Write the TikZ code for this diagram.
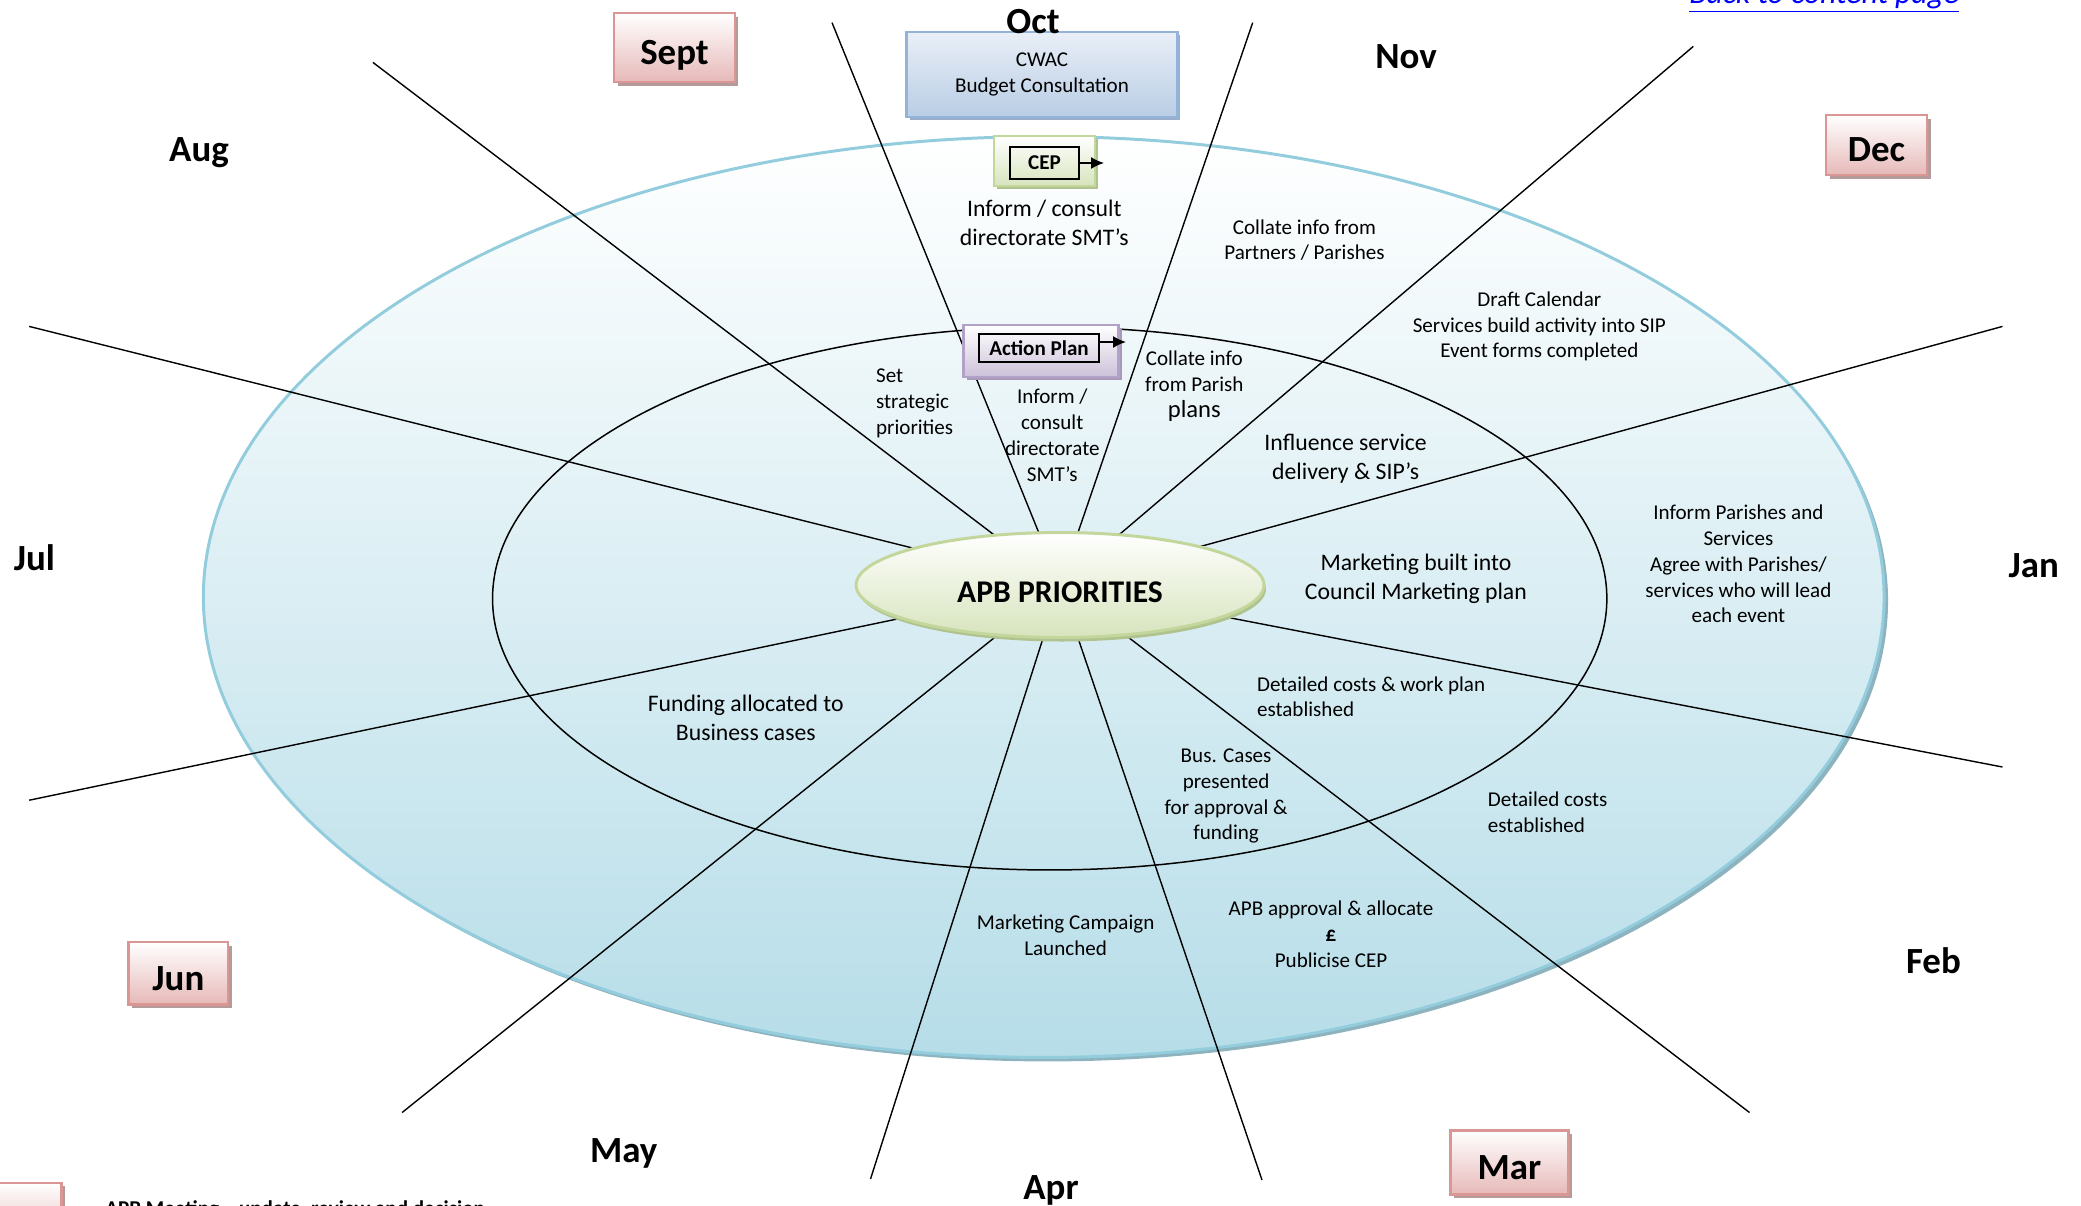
\documentclass[tikz,border=0pt]{standalone}
\usepackage{fontspec}
\setmainfont{Carlito}
\usepackage{tikz}
\usetikzlibrary{arrows.meta,shapes.geometric,shadows}
\definecolor{ringline}{HTML}{93CDDD}
\definecolor{ringfill}{HTML}{B6DDE8}
\definecolor{ringshade}{HTML}{8DB3BE}
\definecolor{prioline}{HTML}{C3D69B}
\definecolor{priofill}{HTML}{D7E4BD}
\definecolor{prioshade}{HTML}{B0C28E}
\definecolor{pinkline}{HTML}{D99694}
\definecolor{pinkfill}{HTML}{E6B9B8}
\definecolor{pinkshade}{HTML}{B49A99}
\definecolor{blueline}{HTML}{95B3D7}
\definecolor{bluetop}{HTML}{E9EFF7}
\definecolor{bluefill}{HTML}{B9CDE5}
\definecolor{blueshade}{HTML}{98AECB}
\definecolor{lilacline}{HTML}{B3A2C7}
\definecolor{lilacfill}{HTML}{CCC1DA}
\definecolor{lilacshade}{HTML}{A899B8}
\definecolor{linkblue}{HTML}{0000FF}
\tikzset{
	month/.style={font=\fontsize{21}{25}\selectfont\bfseries, text height=13.5pt, text depth=0pt, inner sep=0pt},
	monthbox/.style={month, text height=19.1pt, draw=pinkline, line width=1.4pt, top color=white, bottom color=pinkfill,
		drop shadow={shadow xshift=0.07cm, shadow yshift=-0.07cm, fill=pinkshade, opacity=1}},
	note/.style={align=center, font=\fontsize{12}{14.7}\selectfont, inner sep=0pt},
	bignote/.style={align=center, font=\fontsize{13.5}{16.5}\selectfont, inner sep=0pt},
	spoke/.style={line width=0.8pt},
	tagbox/.style={draw, line width=1pt, font=\fontsize{12}{14}\selectfont\bfseries, inner sep=1pt},
	tagarrow/.style={-{Latex[length=2.6mm,width=2.4mm]}, line width=0.9pt}
}

\begin{document}
\begin{tikzpicture}[x=0.02cm, y=-0.02cm]
	\useasboundingbox (0,0) rectangle (2081,1205);
	\clip (0,0) rectangle (2081,1205);
	\node[ellipse, draw=ringline, line width=1.7pt, top color=white, bottom color=ringfill,
		minimum width=33.62cm, minimum height=18.42cm,
		drop shadow={shadow xshift=0.08cm, shadow yshift=-0.08cm, fill=ringshade, opacity=1}] (outer) at (1043.7,597) {};
	\node[ellipse, draw, line width=0.85pt, minimum width=22.29cm, minimum height=10.86cm] (inner) at (1049.7,598.5) {};
	\coordinate (hub) at (1060,585);
	\coordinate (sepoct) at (832,22.6);
	\coordinate (octnov) at (1252.7,22.6);
	\coordinate (augsep) at (372.9,62.4);
	\coordinate (novdec) at (1693.3,46.4);
	\coordinate (julaug) at (29.2,326.4);
	\coordinate (decjan) at (2002.5,326.4);
	\coordinate (junjul) at (29.2,800.2);
	\coordinate (janfeb) at (2002.5,767);
	\coordinate (mayjun) at (402.1,1112.5);
	\coordinate (febmar) at (1749.5,1112.5);
	\coordinate (aprmay) at (870.5,1179);
	\coordinate (marapr) at (1262,1180);
	\foreach \e in {sepoct,octnov,augsep,novdec,julaug,decjan,junjul,janfeb,mayjun,febmar,aprmay,marapr}
		\draw[spoke] (hub) -- (\e);
	\node[ellipse, draw=prioline, line width=1.7pt, top color=white, bottom color=priofill,
		minimum width=8.16cm, minimum height=2.1cm, font=\fontsize{18}{21}\selectfont\bfseries,
		text height=19.6pt, text depth=0pt,
		drop shadow={shadow xshift=0.04cm, shadow yshift=-0.08cm, fill=prioshade, opacity=1}] (prio) at (hub) {APB PRIORITIES};

	\node[draw=blueline, line width=1.2pt, top color=bluetop, bottom color=bluefill, note,
		minimum width=5.42cm, minimum height=1.7cm,
		drop shadow={shadow xshift=0.06cm, shadow yshift=-0.06cm, fill=blueshade, opacity=1}] (cwac) at (1042,74.5) {CWAC\\Budget Consultation};
	\node[draw=prioline, line width=1.2pt, top color=white, bottom color=priofill,
		minimum width=2.02cm, minimum height=1cm,
		drop shadow={shadow xshift=0.06cm, shadow yshift=-0.06cm, fill=prioshade, opacity=1}] (cepbox) at (1044.4,161) {};
	\node[tagbox, minimum width=1.38cm, minimum height=0.64cm] (cep) at (1044.5,163) {CEP};
	\coordinate (ceptip) at (1104,163);
	\draw[tagarrow] (cep.east) -- (ceptip);
	\node[draw=lilacline, line width=1.2pt, top color=white, bottom color=lilacfill,
		minimum width=3.1cm, minimum height=1.04cm,
		drop shadow={shadow xshift=0.06cm, shadow yshift=-0.06cm, fill=lilacshade, opacity=1}] (apbox) at (1041,351) {};
	\node[tagbox, minimum width=2.4cm, minimum height=0.56cm] (ap) at (1039,348) {Action Plan};
	\coordinate (aptip) at (1126,342);
	\draw[tagarrow] ([yshift=0.12cm]ap.east) -- (aptip);

	\node[month] (oct) at (1033,22) {Oct};
	\node[month] (nov) at (1406,57) {Nov};
	\node[month] (aug) at (199,150) {Aug};
	\node[month] (jul) at (34.5,559) {Jul};
	\node[month] (jan) at (2033.7,566) {Jan};
	\node[month] (feb) at (1933.4,962) {Feb};
	\node[month] (may) at (623.7,1150.5) {May};
	\node[month] (apr) at (1051,1187.7) {Apr};
	\node[monthbox, minimum width=2.42cm, minimum height=1.38cm] (sept) at (674.5,47.5) {Sept};
	\node[monthbox, minimum width=2.02cm, minimum height=1.2cm] (dec) at (1876.5,145) {Dec};
	\node[monthbox, minimum width=1.99cm, minimum height=1.25cm] (jun) at (178.4,973.3) {Jun};
	\node[monthbox, minimum width=2.36cm, minimum height=1.28cm] (mar) at (1509.5,1162.5) {Mar};

	\node[bignote] (consult) at (1044.3,223) {Inform / consult\\directorate SMT’s};
	\node[note] (partners) at (1304.4,240.2) {Collate info from\\Partners / Parishes};
	\node[note] (calendar) at (1539.3,326.4) {Draft Calendar\\Services build activity into SIP\\Event forms completed};
	\node[note, align=left, anchor=west] (strategic) at (875.8,403.4) {Set\\strategic\\priorities};
	\node[note] (smt) at (1052.3,435.3) {Inform /\\consult\\directorate\\SMT’s};
	\node[note] (parish) at (1194.3,386) {Collate info\\from Parish\\{\fontsize{14}{17}\selectfont plans}};
	\node[bignote] (influence) at (1345.6,459.1) {Influence service\\delivery \& SIP’s};
	\node[bignote] (council) at (1415.9,578.6) {Marketing built into\\Council Marketing plan};
	\node[note] (leads) at (1738.4,564) {Inform Parishes and\\Services\\Agree with Parishes/\\services who will lead\\each event};
	\node[bignote] (funding) at (745.8,718) {Funding allocated to\\Business cases};
	\node[note, align=left, anchor=west] (workplan) at (1256.7,696.7) {Detailed costs \& work plan\\established};
	\node[note] (buscases) at (1226.1,796.2) {Bus. Cases\\presented\\for approval \&\\funding};
	\node[note, align=left, anchor=west] (costs) at (1487.6,812.1) {Detailed costs\\established};
	\node[note] (approval) at (1331,934.2) {APB approval \& allocate\\\textbf{£}\\Publicise CEP};
	\node[note] (campaign) at (1065.6,935.5) {Marketing Campaign\\Launched};

	\node[anchor=base west, inner sep=0pt, text=linkblue, font=\fontsize{18}{21}\selectfont\itshape] (backlink) at (1689,3) {\underline{Back to content page}};
	\node[monthbox, anchor=north east, minimum width=2cm, minimum height=1.2cm] (keybox) at (62.5,1181.7) {};
	\node[anchor=base west, inner sep=0pt, font=\fontsize{12}{14}\selectfont\bfseries] (keytext) at (105,1215) {APB Meeting – update, review and decision};
\end{tikzpicture}
\end{document}
